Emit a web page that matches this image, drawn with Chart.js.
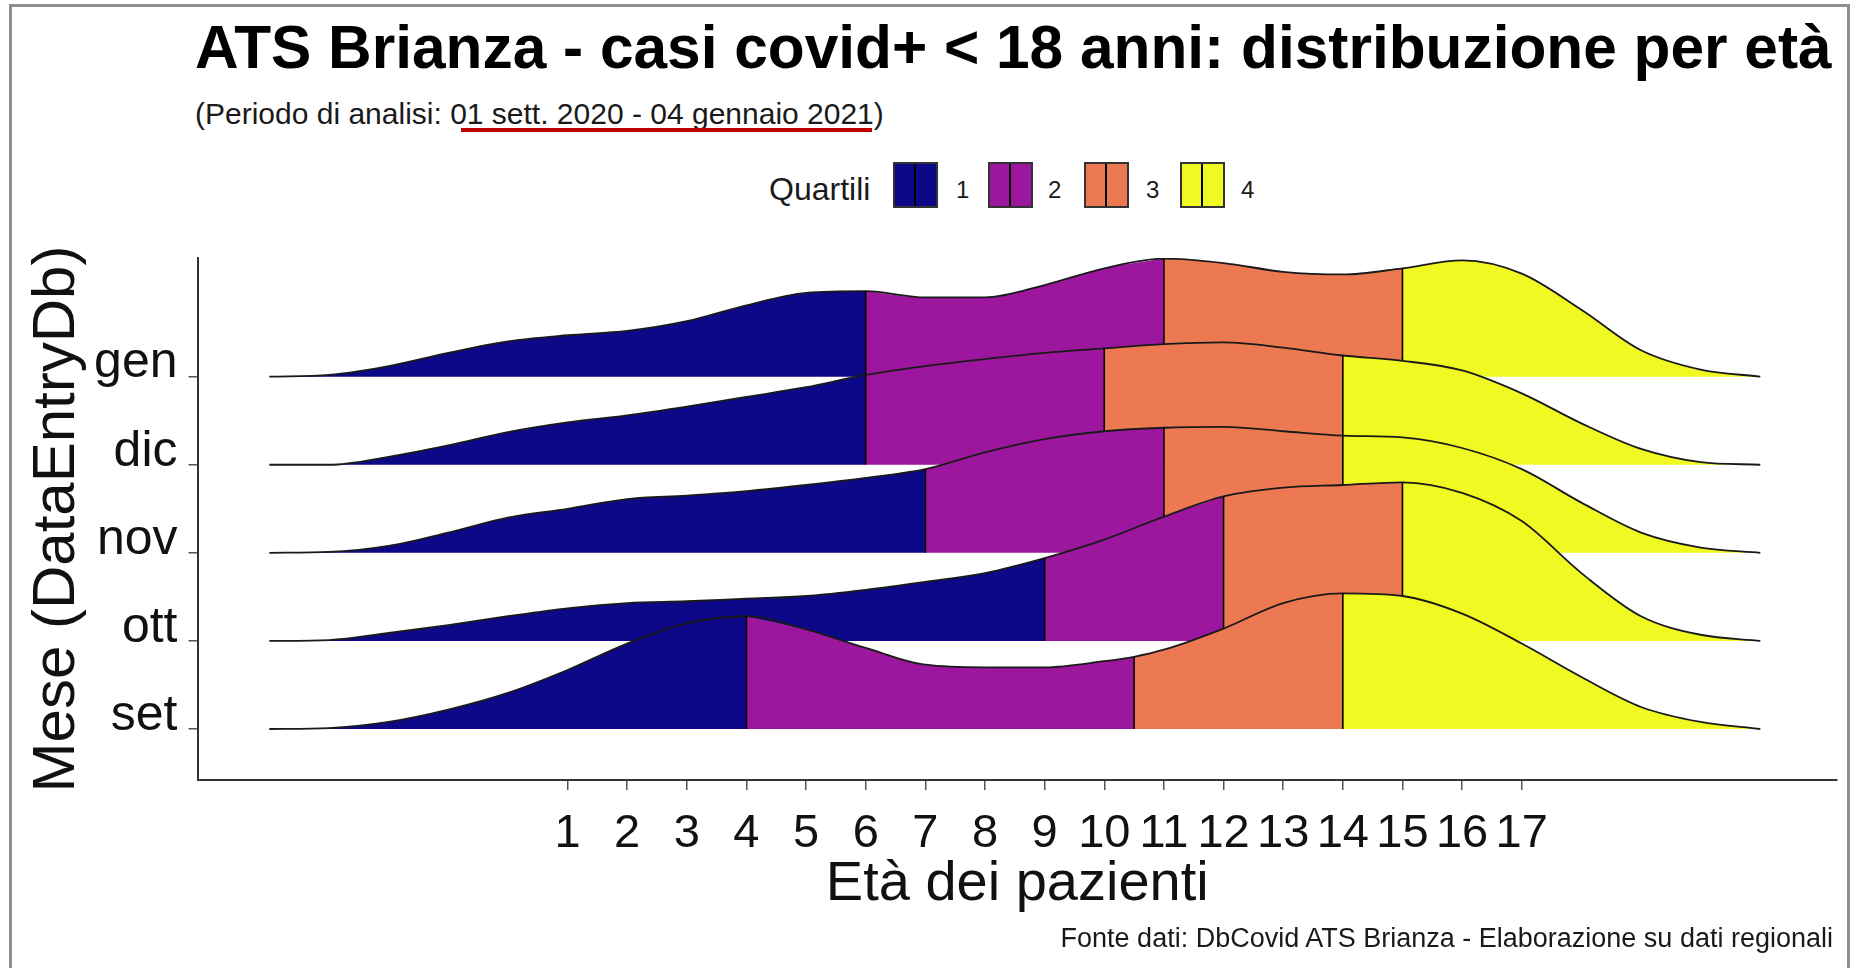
<!DOCTYPE html>
<html>
<head>
<meta charset="utf-8">
<script src="https://cdn.jsdelivr.net/npm/chart.js@4.4.1/dist/chart.umd.min.js"></script>
<style>
  body { margin:0; background:#fff; width:1854px; height:968px; overflow:hidden; position:relative;
         font-family:"Liberation Sans", Arial, sans-serif; color:#000; }
  #frame { position:absolute; left:9px; top:4px; width:1841px; height:990px; border:3px solid #8f8f8f; box-sizing:border-box; }
  .txt { position:absolute; white-space:nowrap; }
  #title { left:195px; top:17px; font-size:60.4px; line-height:60px; font-weight:bold; }
  #subtitle { left:195px; top:99px; font-size:30px; line-height:30px; color:#1a1a1a; }
  #mark { position:absolute; left:461px; top:128px; width:411px; height:4px; background:#c00000; }
  #qlab { left:769px; top:173px; font-size:32px; line-height:32px; color:#1a1a1a; }
  .lbox { position:absolute; top:162px; width:45px; height:46px; border:2px solid #333; box-sizing:border-box; }
  .lbox::after { content:""; position:absolute; left:19px; top:0; width:2px; height:100%; background:#000; }
  .lnum { font-size:24px; line-height:24px; top:178px; color:#1a1a1a; }
  #footer { right:21px; top:925px; font-size:27px; line-height:27px; color:#1a1a1a; }
  #c { position:absolute; left:0; top:0; }
</style>
</head>
<body>
<div id="frame"></div>
<div class="txt" id="title">ATS Brianza - casi covid+ &lt; 18 anni: distribuzione per età</div>
<div class="txt" id="subtitle">(Periodo di analisi: 01 sett. 2020 - 04 gennaio 2021)</div>
<div id="mark"></div>
<div class="txt" id="qlab">Quartili</div>
<div id="legend"></div>
<canvas id="c" width="1854" height="968"></canvas>
<div class="txt" id="footer">Fonte dati: DbCovid ATS Brianza - Elaborazione su dati regionali</div>

<script>
// months from bottom to top
const months = ["set", "ott", "nov", "dic", "gen"];
const xTicks = [1,2,3,4,5,6,7,8,9,10,11,12,13,14,15,16,17];
const ages = [-4,-3,-2,-1,0,1,2,3,4,5,6,7,8,9,10,11,12,13,14,15,16,17,18,19,20,21];

// density heights (1 = distance between two ridges)
const densSet = [0,0.01,0.08,0.22,0.41,0.67,0.97,1.20,1.28,1.13,0.92,0.73,0.70,0.70,0.77,0.90,1.14,1.43,1.54,1.51,1.31,0.97,0.59,0.25,0.08,0];
const densOtt = [0,0.01,0.09,0.18,0.28,0.37,0.43,0.45,0.48,0.51,0.58,0.67,0.77,0.94,1.15,1.41,1.64,1.74,1.77,1.80,1.68,1.36,0.77,0.28,0.07,0];
const densNov = [0,0.01,0.08,0.23,0.40,0.50,0.61,0.65,0.70,0.77,0.85,0.95,1.14,1.29,1.38,1.42,1.43,1.38,1.33,1.31,1.19,0.95,0.57,0.23,0.06,0];
const densDic = [0,0,0.09,0.22,0.37,0.48,0.56,0.66,0.77,0.88,1.02,1.12,1.20,1.27,1.32,1.37,1.39,1.33,1.24,1.18,1.07,0.81,0.47,0.18,0.03,0];
const densGen = [0,0.02,0.12,0.27,0.40,0.47,0.52,0.63,0.81,0.95,0.97,0.90,0.90,1.04,1.23,1.34,1.29,1.19,1.16,1.23,1.32,1.17,0.76,0.30,0.08,0];

// quartile cut points and curve height at each cut
const cutsSet = [4, 10.5, 14],  topsSet = [1.28, 0.82, 1.54];
const cutsOtt = [9, 12, 15],    topsOtt = [0.94, 1.64, 1.80];
const cutsNov = [7, 11, 14],    topsNov = [0.95, 1.42, 1.33];
const cutsDic = [6, 10, 14],    topsDic = [1.02, 1.32, 1.24];
const cutsGen = [6, 11, 15],    topsGen = [0.97, 1.34, 1.23];

const quartiles = ["1", "2", "3", "4"];
const qColors = ["#0d0887", "#9c179e", "#ed7953", "#f0f921"];

const ridges = [
  {dens: densSet, cuts: cutsSet, tops: topsSet},
  {dens: densOtt, cuts: cutsOtt, tops: topsOtt},
  {dens: densNov, cuts: cutsNov, tops: topsNov},
  {dens: densDic, cuts: cutsDic, tops: topsDic},
  {dens: densGen, cuts: cutsGen, tops: topsGen}
];

// html legend
const legend = document.getElementById("legend");
const boxLeft = [893, 988, 1084, 1180], numLeft = [956, 1048, 1146, 1241];
quartiles.forEach((q, i) => {
  const b = document.createElement("div");
  b.className = "lbox"; b.style.left = boxLeft[i] + "px"; b.style.background = qColors[i];
  legend.appendChild(b);
  const t = document.createElement("div");
  t.className = "txt lnum"; t.style.left = numLeft[i] + "px"; t.textContent = q;
  legend.appendChild(t);
});

const curve = { tension: 0.4, cubicInterpolationMode: "monotone", pointRadius: 0 };
let datasets = [];

// index 0 is drawn last, so the bottom ridge goes first
ridges.forEach((r, m) => {
  const base = m + 1;
  let pts = ages.map((a, i) => ({x: a, y: base + r.dens[i]}));
  r.cuts.forEach((c, k) => {
    if (!ages.includes(c)) pts.push({x: c, y: base + r.tops[k]});
  });
  pts.sort((a, b) => a.x - b.x);

  let group = [];
  // quartile lines
  r.cuts.forEach((c, k) => {
    group.push({ data: [{x: c, y: base}, {x: c, y: base + r.tops[k]}],
      borderColor: "#000", borderWidth: 1.6, pointRadius: 0, fill: false, tension: 0 });
  });
  // outline
  group.push(Object.assign({ data: pts, borderColor: "#1a1a1a", borderWidth: 1.8, fill: false }, curve));
  // quartile fills
  for (let k = 3; k >= 0; k--) {
    const lo = k === 0 ? -Infinity : r.cuts[k - 1];
    const hi = k === 3 ? Infinity : r.cuts[k];
    group.push(Object.assign({
      data: pts.filter(p => p.x >= lo && p.x <= hi),
      borderColor: "rgba(0,0,0,0)", borderWidth: 0,
      backgroundColor: qColors[k], fill: {value: base}
    }, curve));
  }
  datasets = datasets.concat(group);
});

const family = "'Liberation Sans', Arial, sans-serif";

new Chart(document.getElementById("c"), {
  type: "line",
  data: { datasets: datasets },
  options: {
    responsive: false,
    animation: false,
    layout: { padding: { left: 0, top: 258, right: 17, bottom: 50 } },
    plugins: { legend: { display: false }, tooltip: { enabled: false } },
    scales: {
      x: {
        type: "linear", min: -5.204, max: 22.286,
        afterBuildTicks: s => { s.ticks = xTicks.map(v => ({value: v})); },
        afterFit: s => { s.height = 138; },
        ticks: { font: { size: 47, family: family }, color: "#111", padding: 16,
                 autoSkip: false, maxRotation: 0, minRotation: 0 },
        grid: { drawOnChartArea: false, tickLength: 10, color: "#555", lineWidth: 1.5 },
        border: { color: "#333", width: 2 },
        title: { display: true, text: "Età dei pazienti", color: "#111",
                 font: { size: 56, family: family }, padding: 0 }
      },
      y: {
        type: "linear", min: 0.421, max: 6.347,
        afterBuildTicks: s => { s.ticks = months.map((m, i) => ({value: i + 1})); },
        afterFit: s => { s.width = 197.5; },
        ticks: { font: { size: 50, family: family }, color: "#111", padding: 11, labelOffset: -13,
                 callback: v => months[Math.round(v) - 1] },
        grid: { drawOnChartArea: false, tickLength: 9, color: "#555", lineWidth: 1.5 },
        border: { color: "#333", width: 2 },
        title: { display: true, text: "Mese (DataEntryDb)", color: "#111",
                 font: { size: 60, family: family }, padding: { top: 21, bottom: 0 } }
      }
    }
  }
});
</script>
</body>
</html>
